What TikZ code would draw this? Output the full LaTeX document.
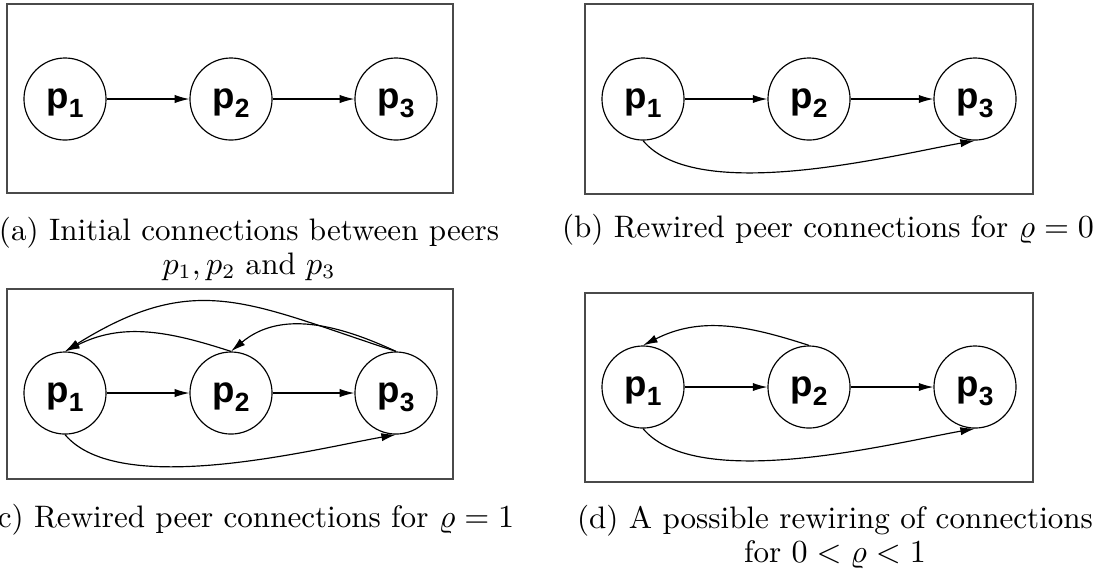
\documentclass[tikz,border=0pt]{standalone}
\usepackage{fontspec}
\newfontfamily\peerfont{Liberation Sans}
\usepackage{xcolor}
\definecolor{frameGray}{HTML}{4A4A4A}
\usepackage{tikz}
\usetikzlibrary{arrows.meta}
\newcommand{\peerlabel}[1]{{\peerfont\bfseries\fontsize{12.5pt}{14pt}\selectfont p\raisebox{-3pt}{\fontsize{9pt}{10pt}\selectfont #1}}}

\begin{document}
\begin{tikzpicture}[x=0.012cm, y=0.012cm,
  peer/.style={circle, draw, line width=0.4pt, inner sep=0pt, minimum size=0.984cm, text height=6.8pt, text depth=0pt},
  link/.style={line width=0.4pt, -{Latex[length=5pt,width=2.8pt]}},
  frame/.style={draw=frameGray, line width=0.5pt},
  caption/.style={align=center, anchor=base, font=\fontsize{10.6pt}{11.5pt}\selectfont}]
  \useasboundingbox (0,0) rectangle (1103,-574);
  % (a) Initial connections
  \draw[frame] (7,-4) rectangle (453,-193);
  \node[peer] (a1) at (65,-99) {\peerlabel{1}};
  \node[peer] (a2) at (231,-99) {\peerlabel{2}};
  \node[peer] (a3) at (396,-99) {\peerlabel{3}};
  \draw[link] (a1) -- (a2);
  \draw[link] (a2) -- (a3);
  \node[caption] (capa) at (249,-274) {(a) Initial connections between peers\\ $p_1, p_2$ and $p_3$};
  % (b) rewiring for rho = 0
  \draw[frame] (585,-4) rectangle (1033,-194);
  \node[peer] (b1) at (643,-99) {\peerlabel{1}};
  \node[peer] (b2) at (809,-99) {\peerlabel{2}};
  \node[peer] (b3) at (975,-99) {\peerlabel{3}};
  \draw[link] (b1) -- (b2);
  \draw[link] (b2) -- (b3);
  \draw[link] (b1.south) to[out=-50, in=190, looseness=0.65] (b3.south);
  \node[caption] (capb) at (828,-237) {(b) Rewired peer connections for $\varrho = 0$};
  % (c) rewiring for rho = 1
  \draw[frame] (7,-289) rectangle (453,-479);
  \node[peer] (c1) at (65,-393) {\peerlabel{1}};
  \node[peer] (c2) at (231,-393) {\peerlabel{2}};
  \node[peer] (c3) at (396,-393) {\peerlabel{3}};
  \draw[link] (c1) -- (c2);
  \draw[link] (c2) -- (c3);
  \draw[link] (c1.south) to[out=-50, in=190, looseness=0.65] (c3.south);
  \draw[link] (c3.north) to[out=162, in=32, looseness=1.2] (c1.north);
  \draw[link] (c3.north) to[out=155, in=40, looseness=1.0] (c2.north);
  \draw[link] (c2.north) to[out=162, in=27, looseness=1.0] (c1.north);
  \node[caption] (capc) at (250,-527) {(c) Rewired peer connections for $\varrho = 1$};
  % (d) one possible rewiring for 0 < rho < 1
  \draw[frame] (585,-293) rectangle (1033,-482);
  \node[peer] (d1) at (643,-387) {\peerlabel{1}};
  \node[peer] (d2) at (809,-387) {\peerlabel{2}};
  \node[peer] (d3) at (975,-387) {\peerlabel{3}};
  \draw[link] (d1) -- (d2);
  \draw[link] (d2) -- (d3);
  \draw[link] (d1.south) to[out=-50, in=190, looseness=0.65] (d3.south);
  \draw[link] (d2.north) to[out=162, in=27, looseness=1.0] (d1.north);
  \node[caption] (capd) at (835,-562) {(d) A possible rewiring of connections\\ for $0 < \varrho < 1$};
\end{tikzpicture}
\end{document}
